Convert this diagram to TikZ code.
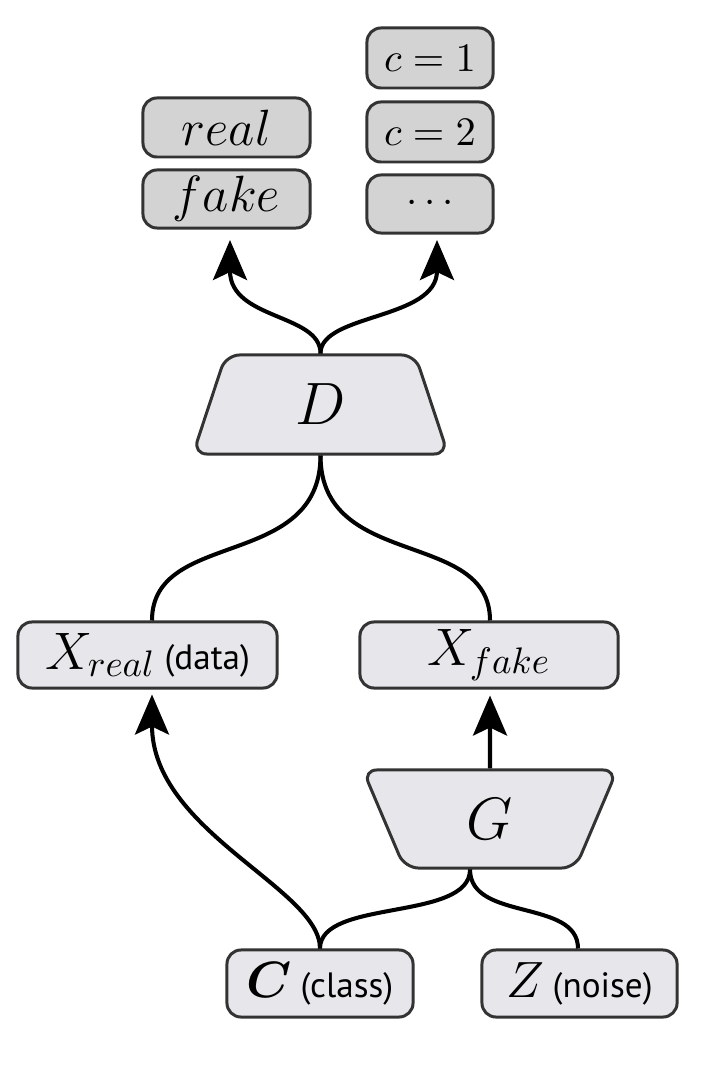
\RequirePackage{fix-cm}
\documentclass[tikz,border=0pt]{standalone}
\usepackage{bm}
\usepackage{fontspec}
\newfontfamily\lblsans{PT Sans}
\usetikzlibrary{shapes.geometric,arrows.meta,calc}

\definecolor{edgegray}{HTML}{333333}
\definecolor{outgray}{HTML}{D3D3D3}
\definecolor{datagray}{HTML}{E7E7EB}

\newcommand{\side}[1]{{\lblsans\fontsize{10}{12}\selectfont #1}}

\begin{document}
\begin{tikzpicture}[x=0.01cm,y=-0.01cm,
  box/.style={draw=edgegray, line width=0.85pt, rounded corners=0.14cm,
              inner sep=0pt, align=center},
  outbox/.style={box, fill=outgray},
  databox/.style={box, fill=datagray},
  net/.style={draw=edgegray, fill=datagray, line width=0.85pt,
              shape=trapezium, trapezium stretches=true,
              rounded corners=0.14cm, inner sep=0pt,
              font=\fontsize{17}{20}\selectfont},
  flow/.style={line width=1.15pt, draw=black},
  tip/.style={-{Stealth[length=0.4cm,width=0.34cm,inset=0.08cm]}}
]
\useasboundingbox (0,0) rectangle (702,1068);

% discriminator outputs
\node[outbox, minimum width=1.67cm, minimum height=0.59cm,
      font=\fontsize{14.5}{16}\selectfont] (real) at (226.5,127.5) {$real$};
\node[outbox, minimum width=1.67cm, minimum height=0.58cm,
      font=\fontsize{14.5}{16}\selectfont] (fake) at (226.5,199) {$fake$};
\node[outbox, minimum width=1.26cm, minimum height=0.60cm,
      font=\fontsize{11.5}{14}\selectfont] (c1) at (430,58) {$c=1$};
\node[outbox, minimum width=1.26cm, minimum height=0.60cm,
      font=\fontsize{11.5}{14}\selectfont] (c2) at (430,132) {$c=2$};
\node[outbox, minimum width=1.26cm, minimum height=0.58cm,
      font=\fontsize{11.5}{14}\selectfont] (cdots) at (430,204) {$\cdots$};

% networks
\node[net, trapezium left angle=78, trapezium right angle=78,
      minimum width=2.55cm, minimum height=0.99cm] (D) at (320.5,404.5) {$D$};
\node[net, trapezium left angle=105.4, trapezium right angle=105.4,
      minimum width=2.54cm, minimum height=0.98cm] (G) at (490,819) {$G$};

% samples
\node[databox, minimum width=2.59cm, minimum height=0.66cm,
      font=\fontsize{15}{18}\selectfont] (Xr) at (147.5,655) {$X_{real}$\,\side{(data)}};
\node[databox, minimum width=2.58cm, minimum height=0.66cm,
      font=\fontsize{15}{18}\selectfont] (Xf) at (489,655) {$X_{fake}$};

% inputs
\node[databox, minimum width=1.86cm, minimum height=0.67cm,
      font=\fontsize{14.5}{18}\selectfont] (C) at (320,983.5) {$\bm{C}$\,\side{(class)}};
\node[databox, minimum width=1.95cm, minimum height=0.67cm,
      font=\fontsize{14.5}{18}\selectfont] (Z) at (579.5,983.5) {$Z$\,\side{(noise)}};

% free arrow ends above the discriminator
\coordinate (tipL) at (230,240);
\coordinate (tipR) at (437,240);

% discriminator to its two outputs
\draw[flow,tip] (D.north) .. controls ($(D.north)+(0,-40)$) and ($(tipL)+(0,80)$) .. (tipL);
\draw[flow,tip] (D.north) .. controls ($(D.north)+(0,-40)$) and ($(tipR)+(0,80)$) .. (tipR);

% samples into the discriminator
\draw[flow] ($(Xr.north)+(4.5,0)$) .. controls ($(Xr.north)+(4.5,-92)$) and ($(D.south)+(0,115)$) .. (D.south);
\draw[flow] ($(Xf.north)+(1,0)$) .. controls ($(Xf.north)+(1,-92)$) and ($(D.south)+(0,115)$) .. (D.south);

% class label to real data, generator to fake data
\draw[flow,tip] (C.north) .. controls ($(C.north)+(0,-60)$) and ($(Xr.south)+(4.5,142)$) .. ($(Xr.south)+(4.5,5)$);
\draw[flow,tip] (G.north) -- ($(Xf.south)+(1,6)$);

% inputs into the generator
\draw[flow] (C.north) .. controls ($(C.north)+(0,-50)$) and ($(G.south)+(-20,52)$) .. ($(G.south)+(-20,0)$);
\draw[flow] ($(Z.north)+(-1.5,0)$) .. controls ($(Z.north)+(-1.5,-50)$) and ($(G.south)+(-20,52)$) .. ($(G.south)+(-20,0)$);
\end{tikzpicture}
\end{document}
